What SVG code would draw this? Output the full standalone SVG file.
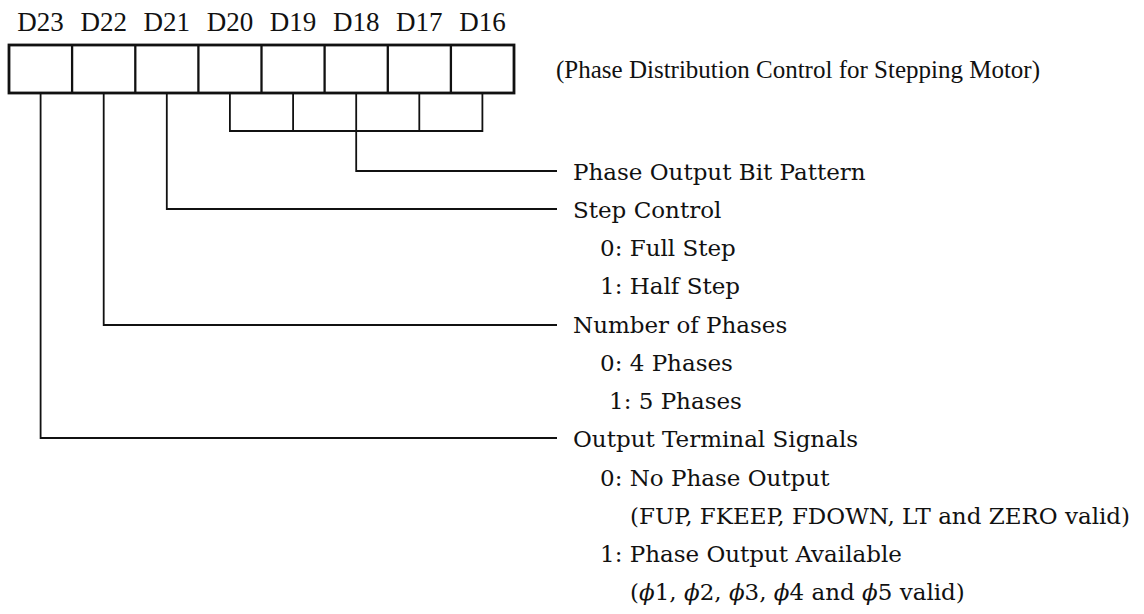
<svg xmlns="http://www.w3.org/2000/svg" width="1144" height="614" viewBox="0 0 1144 614">
<style>
.bg{fill:#fff}
.box{fill:none;stroke:#111;stroke-width:2.8}
.div{stroke:#111;stroke-width:2.3}
.con{fill:none;stroke:#111;stroke-width:1.8}
.bit{font-family:"Liberation Serif","Times New Roman",serif;font-size:27px;fill:#111;text-anchor:middle}
.title{font-family:"Liberation Serif","Times New Roman",serif;font-size:25px;fill:#111}
.lbl{font-family:"DejaVu Serif","Liberation Serif",serif;font-size:23px;fill:#111}
</style>
<rect class="bg" x="0" y="0" width="1144" height="614"/>
<g id="register">
  <rect class="box" x="9" y="45" width="505" height="48"/>
  <line class="div" x1="72.1" y1="45" x2="72.1" y2="93"/>
  <line class="div" x1="135.3" y1="45" x2="135.3" y2="93"/>
  <line class="div" x1="198.4" y1="45" x2="198.4" y2="93"/>
  <line class="div" x1="261.5" y1="45" x2="261.5" y2="93"/>
  <line class="div" x1="324.6" y1="45" x2="324.6" y2="93"/>
  <line class="div" x1="387.8" y1="45" x2="387.8" y2="93"/>
  <line class="div" x1="450.9" y1="45" x2="450.9" y2="93"/>
</g>
<g id="bit-labels">
  <text class="bit" x="40.6" y="31">D23</text>
  <text class="bit" x="103.7" y="31">D22</text>
  <text class="bit" x="166.8" y="31">D21</text>
  <text class="bit" x="229.9" y="31">D20</text>
  <text class="bit" x="293.1" y="31">D19</text>
  <text class="bit" x="356.2" y="31">D18</text>
  <text class="bit" x="419.3" y="31">D17</text>
  <text class="bit" x="482.4" y="31">D16</text>
</g>
<g id="title">
  <text class="title" x="556" y="78">(Phase Distribution Control for Stepping Motor)</text>
</g>
<g id="connectors">
  <path class="con" d="M229.9,93 V131 H482.4 V93 M293.1,93 V131 M356.2,93 V131 M419.3,93 V131"/>
  <path class="con" d="M356.2,131 V171 H557"/>
  <path class="con" d="M166.8,93 V209 H557"/>
  <path class="con" d="M103.7,93 V325 H557"/>
  <path class="con" d="M40.6,93 V438 H557"/>
</g>
<g id="phase-pattern">
  <text class="lbl" x="573" y="180">Phase Output Bit Pattern</text>
</g>
<g id="step-control">
  <text class="lbl" x="573" y="218">Step Control</text>
  <text class="lbl" x="600" y="256">0: Full Step</text>
  <text class="lbl" x="600" y="294">1: Half Step</text>
</g>
<g id="number-of-phases">
  <text class="lbl" x="573" y="333">Number of Phases</text>
  <text class="lbl" x="600" y="371">0: 4 Phases</text>
  <text class="lbl" x="609" y="409">1: 5 Phases</text>
</g>
<g id="output-terminal">
  <text class="lbl" x="573" y="447">Output Terminal Signals</text>
  <text class="lbl" x="600" y="486">0: No Phase Output</text>
  <text class="lbl" x="630" y="524">(FUP, FKEEP, FDOWN, LT and ZERO valid)</text>
  <text class="lbl" x="600" y="562">1: Phase Output Available</text>
  <text class="lbl" x="630" y="600">(<tspan font-style="italic">ϕ</tspan>1, <tspan font-style="italic">ϕ</tspan>2, <tspan font-style="italic">ϕ</tspan>3, <tspan font-style="italic">ϕ</tspan>4 and <tspan font-style="italic">ϕ</tspan>5 valid)</text>
</g>
</svg>
